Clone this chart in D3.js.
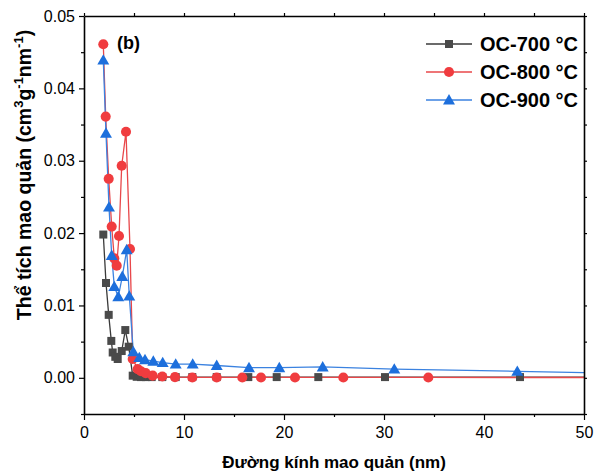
<!DOCTYPE html>
<html>
<head>
<meta charset="utf-8">
<script src="https://cdn.jsdelivr.net/npm/d3@7"></script>
<style>
  body { margin: 0; background: #fff; }
  text { font-family: "Liberation Sans", Arial, sans-serif; }
</style>
</head>
<body>
<div id="chart"></div>
<script>
// data (pore diameter nm, pore volume cm3/g/nm)
const seriesNames = ["OC-700 °C", "OC-800 °C", "OC-900 °C"];

const x700 = [1.93, 2.2, 2.47, 2.73, 2.87, 3.13, 3.37, 3.77, 4.13, 4.47, 4.87, 5.27, 5.7, 6.17, 6.77, 7.83, 9.17, 10.83, 13.27, 16.43, 19.27, 23.43, 30.1, 43.6, 65];
const y700 = [0.0198, 0.0131, 0.0087, 0.0051, 0.0035, 0.0029, 0.0026, 0.0037, 0.0066, 0.0043, 0.0003, 0.00014, 0.0001, 0.0001, 0.0001, 0.0001, 0.0001, 0.0001, 0.0001, 0.0001, 0.0001, 0.0001, 0.0001, 0.0001, 0.0001];

const x800 = [1.93, 2.17, 2.47, 2.77, 3.03, 3.27, 3.5, 3.77, 4.2, 4.6, 4.87, 5.37, 5.7, 6.17, 6.87, 7.83, 9.1, 10.83, 13.27, 15.83, 17.7, 21.1, 25.93, 34.43, 52];
const y800 = [0.0461, 0.0361, 0.0275, 0.0209, 0.0165, 0.0155, 0.0196, 0.0293, 0.0340, 0.0178, 0.0026, 0.0012, 0.0009, 0.00065, 0.0003, 0.00018, 0.0001, 0.00005, 0.00005, 0.00005, 0.00005, 0.00005, 0.00005, 0.00005, 0.00004];

const x900 = [1.93, 2.2, 2.5, 2.77, 3.03, 3.43, 3.83, 4.27, 4.53, 4.93, 5.53, 6.1, 6.93, 7.87, 9.17, 10.87, 13.27, 16.5, 19.53, 23.87, 31.03, 43.33, 62];
const y900 = [0.0439, 0.0338, 0.0236, 0.0169, 0.0126, 0.0112, 0.0140, 0.0177, 0.0113, 0.0036, 0.0028, 0.0025, 0.0023, 0.0021, 0.0019, 0.0019, 0.0017, 0.0014, 0.0014, 0.0015, 0.0012, 0.0009, 0.0004];

const xTicks = [0, 10, 20, 30, 40, 50];
const yTicks = [0, 0.01, 0.02, 0.03, 0.04, 0.05];

const width = 595;
const height = 473;
const margin = { top: 16, right: 11, bottom: 59, left: 84 };

const x = d3.scaleLinear().domain([0, 50]).range([margin.left, width - margin.right]);
const y = d3.scaleLinear().domain([-0.005, 0.05]).range([height - margin.bottom, margin.top]);

const svg = d3.select("#chart").append("svg")
    .attr("width", width)
    .attr("height", height);

svg.append("clipPath").attr("id", "plot")
  .append("rect")
    .attr("x", margin.left).attr("y", margin.top)
    .attr("width", width - margin.left - margin.right)
    .attr("height", height - margin.top - margin.bottom);

const styles = [
    { line: "#3a3a3a", fill: "#4a4a4a", shape: d3.symbolSquare, size: 64 },
    { line: "#e8474a", fill: "#f03c3f", shape: d3.symbolCircle, size: 80 },
    { line: "#3b82e0", fill: "#1d6fdc", shape: d3.symbolTriangle, size: 62 }
];

const data = [
    x700.map((v, i) => [v, y700[i]]),
    x800.map((v, i) => [v, y800[i]]),
    x900.map((v, i) => [v, y900[i]])
];

// lines
const line = d3.line().x(d => x(d[0])).y(d => y(d[1]));
const plotG = svg.append("g").attr("clip-path", "url(#plot)");
data.forEach((s, k) => {
    plotG.append("path")
        .datum(s)
        .attr("fill", "none")
        .attr("stroke", styles[k].line)
        .attr("stroke-width", 1.3)
        .attr("d", line);
});
// markers
data.forEach((s, k) => {
    plotG.append("g")
      .selectAll("path")
      .data(s.filter(d => d[0] <= 50))
      .join("path")
        .attr("transform", d => `translate(${x(d[0])},${y(d[1]) + (k === 2 ? 1 : 0)})`)
        .attr("d", d3.symbol(styles[k].shape, styles[k].size))
        .attr("fill", styles[k].fill);
});

// axes
const bottom = height - margin.bottom;
const fmt = d3.format(".2f");

svg.append("g")
    .attr("transform", `translate(0,${bottom})`)
    .call(d3.axisBottom(x).tickValues(d3.range(0, 51, 5)).tickSize(6).tickSizeOuter(0)
        .tickFormat(d => xTicks.includes(d) ? d : ""))
    .call(g => g.selectAll(".tick line").attr("y2", d => d % 10 === 0 ? 6 : 3))
    .call(g => g.selectAll("text").attr("font-size", 16).attr("fill", "#000").attr("dy", "0.95em"));

svg.append("g")
    .attr("transform", `translate(0,${margin.top})`)
    .call(d3.axisTop(x).tickValues(d3.range(0, 51, 5)).tickSize(3).tickSizeOuter(0).tickFormat(""));

svg.append("g")
    .attr("transform", `translate(${margin.left},0)`)
    .call(d3.axisLeft(y).tickValues(d3.range(-0.005, 0.0501, 0.005)).tickSize(5).tickSizeOuter(0)
        .tickFormat(d => yTicks.some(t => Math.abs(t - d) < 1e-9) ? fmt(d) : ""))
    .call(g => g.selectAll(".tick line").attr("x2", d => yTicks.some(t => Math.abs(t - d) < 1e-9) ? -5 : -3))
    .call(g => g.selectAll("text").attr("font-size", 16).attr("fill", "#000").attr("x", -9));

svg.append("g")
    .attr("transform", `translate(${width - margin.right},0)`)
    .call(d3.axisRight(y).tickValues(d3.range(-0.005, 0.0501, 0.005)).tickSize(3).tickSizeOuter(0).tickFormat(""));

svg.selectAll(".domain").attr("stroke", "#000").attr("stroke-width", 1.6);
svg.selectAll(".tick line").attr("stroke", "#000").attr("stroke-width", 1.2);

// panel label
svg.append("text")
    .attr("x", 117).attr("y", 49)
    .attr("font-size", 18).attr("font-weight", "bold")
    .text("(b)");

// legend
const legend = svg.append("g");
seriesNames.forEach((name, k) => {
    const ly = 44 + k * 28;
    legend.append("line")
        .attr("x1", 426).attr("x2", 472).attr("y1", ly).attr("y2", ly)
        .attr("stroke", styles[k].line).attr("stroke-width", 1.3);
    legend.append("path")
        .attr("transform", `translate(449,${ly + (k === 2 ? 1 : 0)})`)
        .attr("d", d3.symbol(styles[k].shape, styles[k].size))
        .attr("fill", styles[k].fill);
    legend.append("text")
        .attr("x", 480).attr("y", ly + 7)
        .attr("font-size", 20).attr("font-weight", "bold")
        .text(name);
});

// axis titles
svg.append("text")
    .attr("x", (margin.left + width - margin.right) / 2).attr("y", 468)
    .attr("text-anchor", "middle")
    .attr("font-size", 17).attr("font-weight", "bold")
    .text("Đường kính mao quản (nm)");

const yt = svg.append("text")
    .attr("transform", `translate(31,175) rotate(-90)`)
    .attr("text-anchor", "middle")
    .attr("font-size", 19.5).attr("font-weight", "bold");
yt.append("tspan").text("Thể tích mao quản (cm");
yt.append("tspan").attr("font-size", 13).attr("dy", -8).text("3");
yt.append("tspan").attr("dy", 8).text("g");
yt.append("tspan").attr("font-size", 13).attr("dy", -8).text("-1");
yt.append("tspan").attr("dy", 8).text("nm");
yt.append("tspan").attr("font-size", 13).attr("dy", -8).text("-1");
yt.append("tspan").attr("dy", 8).text(")");
</script>
</body>
</html>
